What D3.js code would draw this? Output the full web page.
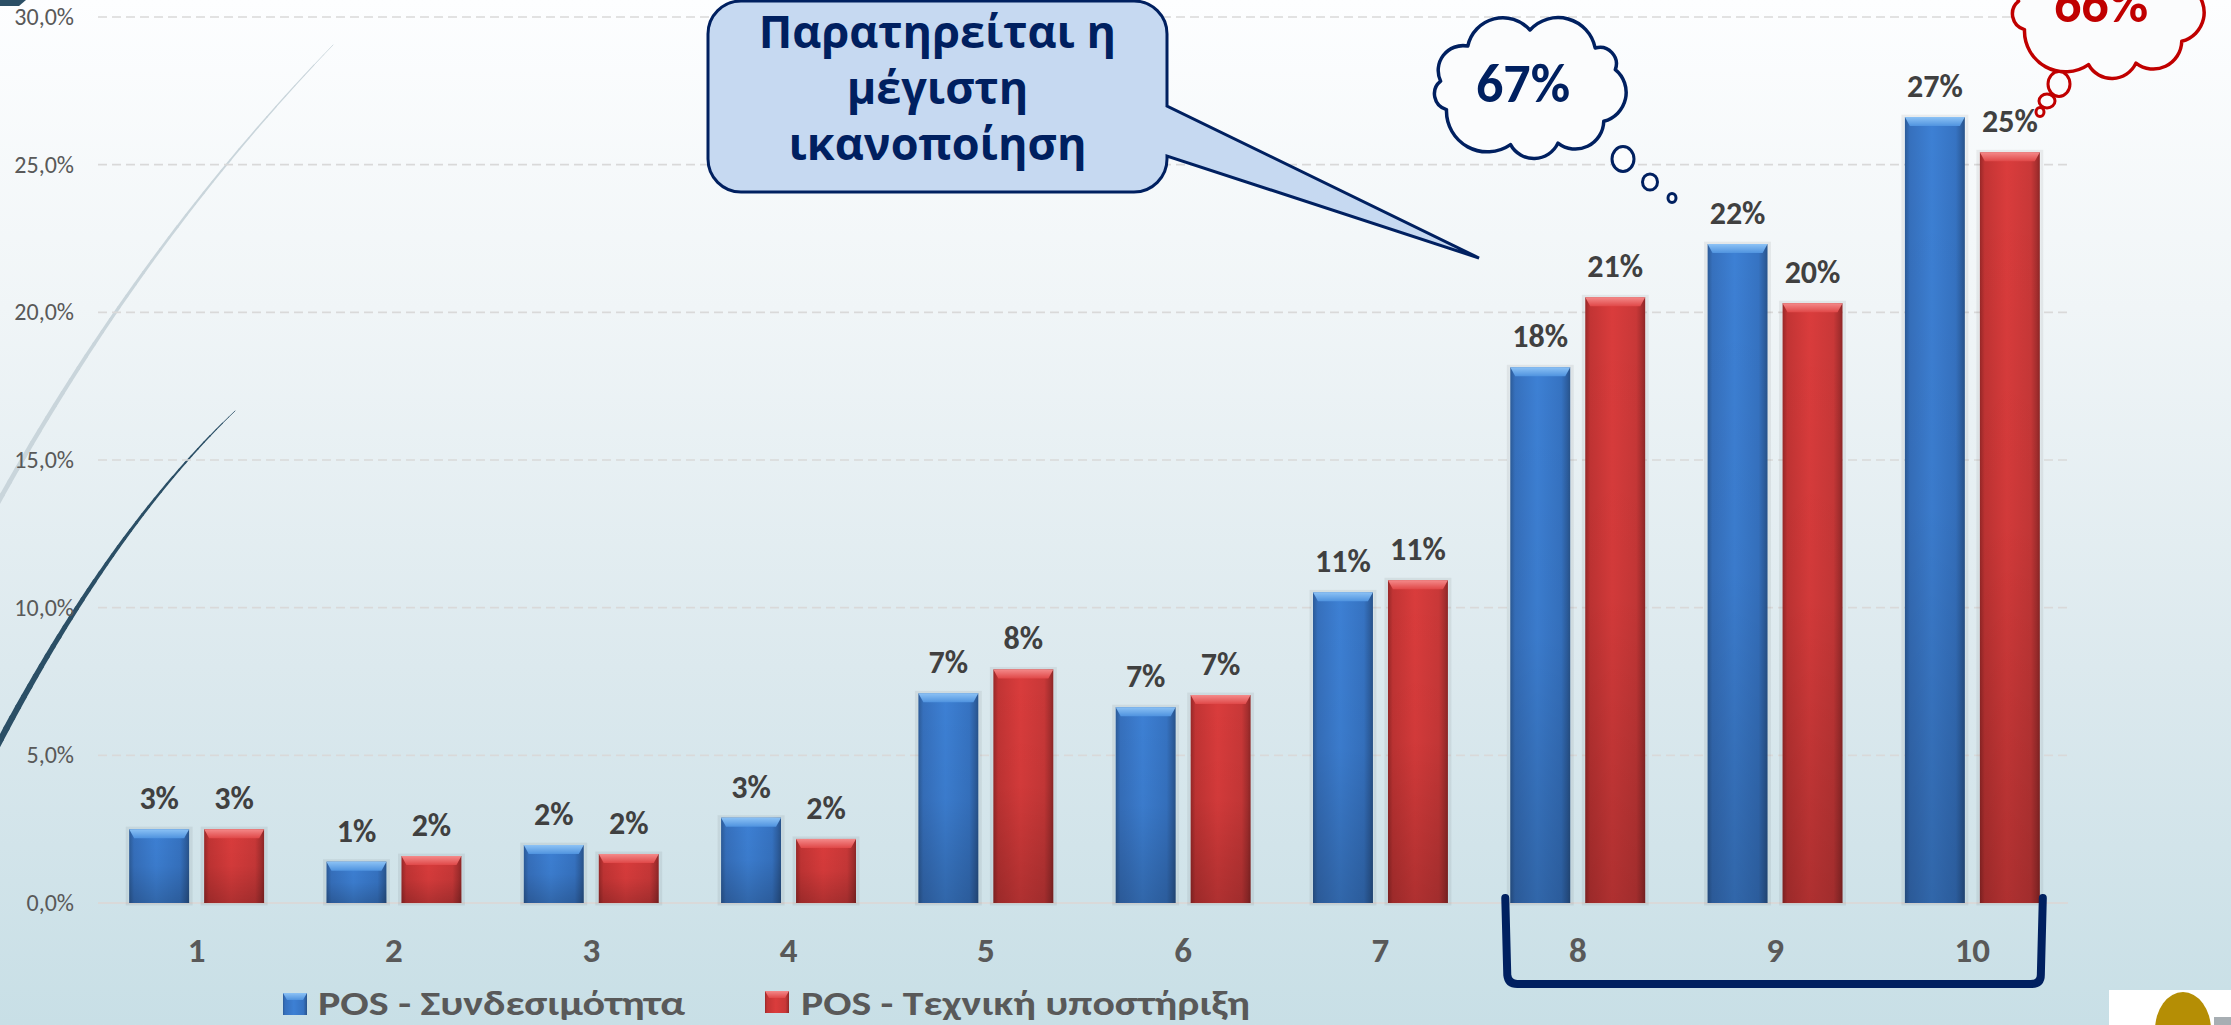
<!DOCTYPE html>
<html>
<head>
<meta charset="utf-8">
<script src="https://cdn.jsdelivr.net/npm/d3@7"></script>
<style>
  html, body { margin: 0; padding: 0; overflow: hidden; background: #fff; }
</style>
</head>
<body>
<div id="chart"></div>
<script>
// ---- data ----
const categories = ["1", "2", "3", "4", "5", "6", "7", "8", "9", "10"];
const seriesNames = ["POS - Συνδεσιμότητα", "POS - Τεχνική υποστήριξη"];
const connectivity = [2.5, 1.4, 1.96, 2.89, 7.1, 6.63, 10.52, 18.14, 22.31, 26.61];
const support = [2.5, 1.59, 1.66, 2.17, 7.91, 7.04, 10.93, 20.51, 20.31, 25.42];
const yTicks = [0, 5, 10, 15, 20, 25, 30];
const topCategories = ["8", "9", "10"];
const calloutLines = ["Παρατηρείται η", "μέγιστη", "ικανοποίηση"];

const width = 2231;
const height = 1025;
const numFont = "Carlito, Calibri, Lato, sans-serif";

const svg = d3.select("#chart").append("svg")
    .attr("width", width)
    .attr("height", height);

const defs = svg.append("defs");

function linGrad(id, x2, y2, stops) {
    const g = defs.append("linearGradient").attr("id", id)
        .attr("x1", 0).attr("y1", 0).attr("x2", x2).attr("y2", y2);
    stops.forEach(s => g.append("stop").attr("offset", s[0]).attr("stop-color", s[1]).attr("stop-opacity", s[2] == null ? 1 : s[2]));
}

linGrad("bg", 0, 1, [[0, "#fdfeff"], [0.3, "#f0f5f7"], [0.65, "#dce9ee"], [1, "#c8dfe6"]]);
linGrad("blueBody", 1, 0, [[0, "#2c5b98"], [0.08, "#3670bd"], [0.45, "#3d80d4"], [0.85, "#3673c2"], [0.95, "#2d5e9f"], [1, "#28538a"]]);
linGrad("redBody", 1, 0, [[0, "#982828"], [0.08, "#c23434"], [0.45, "#da3c3c"], [0.85, "#c93838"], [0.95, "#a52e2e"], [1, "#8e2626"]]);
linGrad("shade", 0, 1, [[0, "#000", 0], [0.5, "#000", 0.04], [1, "#000", 0.2]]);
linGrad("blueTop", 0, 1, [[0, "#8cc2f5"], [1, "#4f93df"]]);
linGrad("redTop", 0, 1, [[0, "#f48a8a"], [1, "#e04848"]]);

// background
svg.append("rect").attr("width", width).attr("height", height).attr("fill", "url(#bg)");

// decorative arcs on the left
function taperedCurve(p0, c, p1, w0, w1, color) {
    const n = 40;
    const pts = d3.range(n + 1).map(i => {
        const t = i / n;
        return [
            (1 - t) * (1 - t) * p0[0] + 2 * (1 - t) * t * c[0] + t * t * p1[0],
            (1 - t) * (1 - t) * p0[1] + 2 * (1 - t) * t * c[1] + t * t * p1[1]
        ];
    });
    const g = svg.append("g");
    for (let i = 0; i < n; i++) {
        g.append("line")
            .attr("x1", pts[i][0]).attr("y1", pts[i][1])
            .attr("x2", pts[i + 1][0]).attr("y2", pts[i + 1][1])
            .attr("stroke", color)
            .attr("stroke-linecap", "round")
            .attr("stroke-width", w0 + (w1 - w0) * i / n);
    }
}
taperedCurve([333, 45], [140, 245], [-5, 508], 0.8, 5, "#c9d5db");
taperedCurve([235, 411], [110, 530], [-5, 750], 0.8, 6.5, "#2b4f66");

svg.append("polygon")
    .attr("points", "0,0 26,0 19,6 0,6")
    .attr("fill", "#2b4f66");

// scales
const y = d3.scaleLinear().domain([0, 30]).range([903, 17]);
const x0 = d3.scaleBand().domain(categories).range([98, 2071]).paddingInner(0.316).paddingOuter(0.158);
const x1 = d3.scaleBand().domain([0, 1]).range([0, x0.bandwidth()]).paddingInner(0.2);

// gridlines + y labels
const grid = svg.append("g");
grid.selectAll("line")
    .data(yTicks.filter(d => d > 0))
    .enter().append("line")
    .attr("x1", 98).attr("x2", 2068)
    .attr("y1", d => y(d)).attr("y2", d => y(d))
    .attr("stroke", "#d9d9d9")
    .attr("stroke-width", 1.6)
    .attr("stroke-dasharray", "9,5");

grid.append("line")
    .attr("x1", 98).attr("x2", 2068)
    .attr("y1", y(0)).attr("y2", y(0))
    .attr("stroke", "#d9d9d9")
    .attr("stroke-width", 2);

grid.selectAll("text")
    .data(yTicks)
    .enter().append("text")
    .attr("x", 74)
    .attr("y", d => y(d))
    .attr("dy", "0.33em")
    .attr("text-anchor", "end")
    .attr("font-family", numFont)
    .attr("font-size", 24)
    .attr("fill", "#595959")
    .text(d => d.toFixed(1).replace(".", ",") + "%");

// bars
const series = [
    { values: connectivity, body: "url(#blueBody)", top: "url(#blueTop)" },
    { values: support, body: "url(#redBody)", top: "url(#redTop)" }
];

const barData = [];
categories.forEach((c, i) => {
    series.forEach((s, j) => barData.push({ cat: c, s: j, v: s.values[i], body: s.body, top: s.top }));
});

const bars = svg.append("g").selectAll("g")
    .data(barData)
    .enter().append("g")
    .attr("transform", d => `translate(${x0(d.cat) + x1(d.s)},0)`);

const bw = x1.bandwidth();

bars.append("rect")
    .attr("x", -2).attr("y", d => y(d.v) - 1)
    .attr("width", bw + 4)
    .attr("height", d => y(0) - y(d.v) + 2)
    .attr("fill", "none")
    .attr("stroke", "#000")
    .attr("stroke-opacity", 0.06)
    .attr("stroke-width", 3);

bars.append("rect")
    .attr("x", 0).attr("y", d => y(d.v))
    .attr("width", bw)
    .attr("height", d => y(0) - y(d.v))
    .attr("fill", d => d.body);

bars.append("rect")
    .attr("x", 0).attr("y", d => y(d.v))
    .attr("width", bw)
    .attr("height", d => y(0) - y(d.v))
    .attr("fill", "url(#shade)");

bars.append("path")
    .attr("d", d => {
        const t = y(d.v);
        return `M0,${t} L${bw},${t} L${bw - 5},${t + 9} L5,${t + 9} Z`;
    })
    .attr("fill", d => d.top);

bars.append("text")
    .attr("x", bw / 2)
    .attr("y", d => y(d.v) - 20)
    .attr("text-anchor", "middle")
    .attr("font-family", numFont)
    .attr("font-weight", "bold")
    .attr("font-size", 32)
    .attr("fill", "#404040")
    .text(d => Math.round(d.v) + "%");

// category labels
svg.append("g").selectAll("text")
    .data(categories)
    .enter().append("text")
    .attr("x", d => x0(d) + x0.bandwidth() / 2)
    .attr("y", 962)
    .attr("text-anchor", "middle")
    .attr("font-family", numFont)
    .attr("font-weight", "bold")
    .attr("font-size", 35)
    .attr("fill", "#595959")
    .text(d => d);

// bracket around 8-10
const bl = x0(topCategories[0]) - 5;
const br = x0(topCategories[topCategories.length - 1]) + x0.bandwidth() + 1;
svg.append("path")
    .attr("d", `M${bl},${y(0) - 5} L${bl + 2},${975} Q${bl + 3},${984} ${bl + 12},${984} L${br - 10},${984} Q${br},${984} ${br},${975} L${br + 2},${y(0) - 5}`)
    .attr("fill", "none")
    .attr("stroke", "#002060")
    .attr("stroke-width", 8)
    .attr("stroke-linecap", "round")
    .attr("stroke-linejoin", "round");

// legend
const legend = [
    { name: seriesNames[0], sx: 283, sy: 993, tx: 318, len: 367, fill: "url(#blueBody)", top: "url(#blueTop)" },
    { name: seriesNames[1], sx: 765, sy: 991, tx: 801, len: 449, fill: "url(#redBody)", top: "url(#redTop)" }
];
const lg = svg.append("g").selectAll("g").data(legend).enter().append("g");
lg.append("rect")
    .attr("x", d => d.sx).attr("y", d => d.sy)
    .attr("width", 24).attr("height", 22)
    .attr("fill", d => d.fill);
lg.append("path")
    .attr("d", d => `M${d.sx},${d.sy} L${d.sx + 24},${d.sy} L${d.sx + 20},${d.sy + 7} L${d.sx + 4},${d.sy + 7} Z`)
    .attr("fill", d => d.top);
lg.append("text")
    .attr("x", d => d.tx).attr("y", 1015)
    .attr("font-family", "Carlito, Calibri, 'Open Sans', sans-serif")
    .attr("font-weight", "bold")
    .attr("font-size", 35)
    .attr("fill", "#595959")
    .attr("textLength", d => d.len)
    .attr("lengthAdjust", "spacingAndGlyphs")
    .text(d => d.name);

// callout bubble
const cl = 708, cr = 1167, ct = 1, cb = 192, r = 33;
svg.append("path")
    .attr("d", `M${cl + r},${ct} H${cr - r} A${r},${r} 0 0 1 ${cr},${ct + r} V106 L1479,258 L${cr},156 V${cb - r} A${r},${r} 0 0 1 ${cr - r},${cb} H${cl + r} A${r},${r} 0 0 1 ${cl},${cb - r} V${ct + r} A${r},${r} 0 0 1 ${cl + r},${ct} Z`)
    .attr("fill", "#c6d9f1")
    .attr("stroke", "#002060")
    .attr("stroke-width", 3)
    .attr("stroke-linejoin", "miter");

svg.append("g").selectAll("text")
    .data(calloutLines)
    .enter().append("text")
    .attr("x", (cl + cr) / 2)
    .attr("y", (d, i) => 48 + i * 56)
    .attr("text-anchor", "middle")
    .attr("font-family", "'Open Sans', 'Noto Sans', sans-serif")
    .attr("font-weight", "bold")
    .attr("font-size", 45)
    .attr("fill", "#002060")
    .text(d => d);

// thought clouds with totals for 8-10
function cloudPath(cx, cy, rx, ry, n) {
    const pts = d3.range(n).map(i => {
        const a = -Math.PI / 2 + i * 2 * Math.PI / n + 0.15 * Math.sin(i * 2.3);
        return [cx + rx * Math.cos(a), cy + ry * Math.sin(a)];
    });
    let p = `M${pts[0][0]},${pts[0][1]}`;
    for (let i = 0; i < n; i++) {
        const a = pts[i], b = pts[(i + 1) % n];
        const chord = Math.hypot(b[0] - a[0], b[1] - a[1]);
        p += ` A${chord * 0.56},${chord * 0.56} 0 0 1 ${b[0]},${b[1]}`;
    }
    return p + " Z";
}

const idx = topCategories.map(c => categories.indexOf(c));
const clouds = [
    { cx: 1530, cy: 88, color: "#002060", total: d3.sum(idx, i => connectivity[i]),
      dots: [[1623, 159, 11, 12.5], [1650, 182, 7.5, 8], [1672, 198, 4, 4.5]] },
    { cx: 2108, cy: 8, color: "#c00000", total: d3.sum(idx, i => support[i]),
      dots: [[2059, 84, 11, 12.5], [2047, 101, 8, 7], [2040, 112, 4, 4.5]] }
];

clouds.forEach(c => {
    const g = svg.append("g");
    g.append("path")
        .attr("d", cloudPath(c.cx, c.cy, 90, 58, 9))
        .attr("fill", "#fbfcfd")
        .attr("stroke", c.color)
        .attr("stroke-width", 3.5)
        .attr("stroke-linejoin", "round");
    g.selectAll("ellipse")
        .data(c.dots)
        .enter().append("ellipse")
        .attr("cx", d => d[0]).attr("cy", d => d[1])
        .attr("rx", d => d[2]).attr("ry", d => d[3])
        .attr("fill", "#fbfcfd")
        .attr("stroke", c.color)
        .attr("stroke-width", 3);
    g.append("text")
        .attr("x", c.cx - 7)
        .attr("y", c.cy + 14)
        .attr("text-anchor", "middle")
        .attr("font-family", numFont)
        .attr("font-weight", "bold")
        .attr("font-size", 54)
        .attr("fill", c.color)
        .text(Math.round(c.total) + "%");
});

// logo corner
svg.append("rect").attr("x", 2109).attr("y", 990).attr("width", 122).attr("height", 35).attr("fill", "#ffffff");
svg.append("ellipse").attr("cx", 2183).attr("cy", 1030).attr("rx", 28).attr("ry", 38).attr("fill", "#b58e05");
svg.append("rect").attr("x", 2214).attr("y", 1017).attr("width", 17).attr("height", 8).attr("fill", "#a7aeb3");
</script>
</body>
</html>
